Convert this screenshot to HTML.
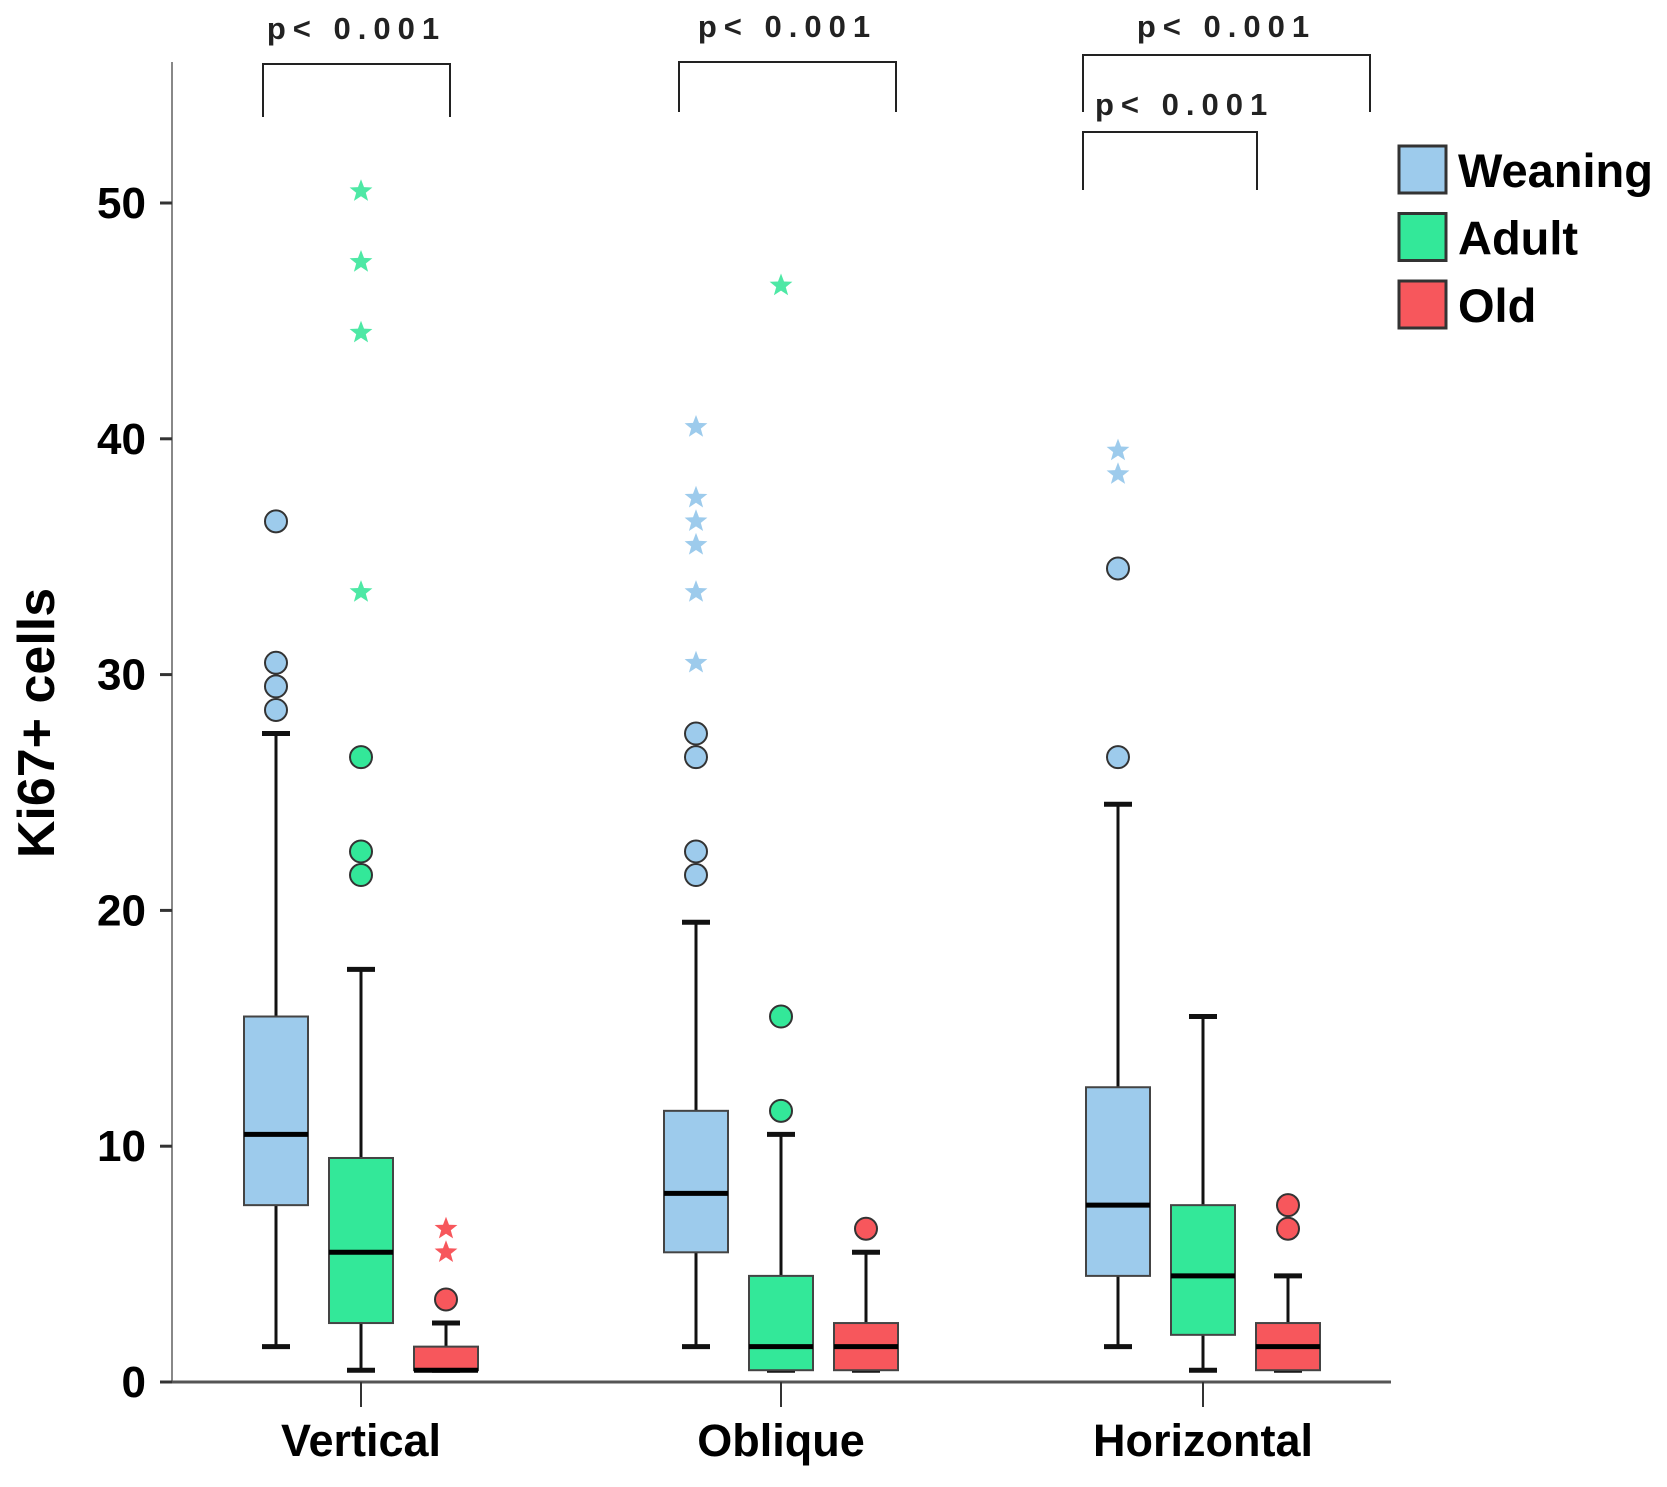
<!DOCTYPE html>
<html><head><meta charset="utf-8"><style>
html,body{margin:0;padding:0;background:#fff;}
svg{display:block;font-family:"Liberation Sans",Arial,sans-serif;}
</style></head><body>
<svg id="chart" width="1667" height="1487" viewBox="0 0 1667 1487"></svg>
<script>
const categories = ["Vertical","Oblique","Horizontal"];
const groups = ["Weaning","Adult","Old"];
const colors = ["#9dcbec","#33e899","#f7575c"];
const starColors = ["#9dcbec","#4ee8a5","#f7575c"];
// [low whisker, Q1, median, Q3, high whisker] per category, per group
const stats = [
  [[1.5,7.5,10.5,15.5,27.5],[0.5,2.5,5.5,9.5,17.5],[0.5,0.5,0.5,1.5,2.5]],
  [[1.5,5.5,8,11.5,19.5],[0.5,0.5,1.5,4.5,10.5],[0.5,0.5,1.5,2.5,5.5]],
  [[1.5,4.5,7.5,12.5,24.5],[0.5,2,4.5,7.5,15.5],[0.5,0.5,1.5,2.5,4.5]]
];
const circleOutliers = [
  [[28.5,29.5,30.5,36.5],[21.5,22.5,26.5],[3.5]],
  [[21.5,22.5,26.5,27.5],[11.5,15.5],[6.5]],
  [[26.5,34.5],[],[6.5,7.5]]
];
const starOutliers = [
  [[],[33.5,44.5,47.5,50.5],[5.5,6.5]],
  [[30.5,33.5,35.5,36.5,37.5,40.5],[46.5],[]],
  [[38.5,39.5],[],[]]
];
const yTicks = [0,10,20,30,40,50];

const svg = document.getElementById('chart');
const NS = 'http://www.w3.org/2000/svg';
const y0 = 1382, pxPerUnit = 23.58;
const yScale = v => y0 - v * pxPerUnit;
const catCenters = [361, 781, 1203];
const xScale = (ci, gi) => catCenters[ci] + (gi - 1) * 85;
const boxW = 64;
function mk(tag, attrs, name, text) {
  const e = document.createElementNS(NS, tag);
  for (const k in attrs) e.setAttribute(k, attrs[k]);
  
  
  if (text !== undefined) e.textContent = text;
  svg.appendChild(e);
  return e;
}
mk('line',{x1:172,y1:62,x2:172,y2:y0,stroke:'#888','stroke-width':2},'y-axis-line');
mk('line',{x1:160,y1:y0,x2:1391,y2:y0,stroke:'#555','stroke-width':3},'x-axis-line');
yTicks.forEach(t => {
  mk('line',{x1:160,y1:yScale(t),x2:172,y2:yScale(t),stroke:'#333','stroke-width':3},'y-tick');
  mk('text',{x:146,y:yScale(t)+15,'text-anchor':'end','font-size':44,'font-weight':'bold'},'y-tick-label',String(t));
});
mk('text',{x:0,y:0,transform:'translate(54,723) rotate(-90)','text-anchor':'middle','font-size':52,'font-weight':'bold'},'y-axis-title','Ki67+ cells');
categories.forEach((c, ci) => {
  mk('line',{x1:catCenters[ci],y1:y0,x2:catCenters[ci],y2:y0+25,stroke:'#333','stroke-width':2},'x-tick');
  mk('text',{x:catCenters[ci],y:1456,'text-anchor':'middle','font-size':45,'font-weight':'bold'},'x-tick-label-'+c.toLowerCase(),c);
});
function star(cx, cy, r, fill, name) {
  let pts = [];
  for (let i = 0; i < 10; i++) {
    const a = -Math.PI/2 + i*Math.PI/5, rr = i%2 ? r*0.42 : r;
    pts.push((cx+rr*Math.cos(a)).toFixed(1)+','+(cy+rr*Math.sin(a)).toFixed(1));
  }
  mk('polygon',{points:pts.join(' '),fill:fill},name);
}
stats.forEach((cat, ci) => cat.forEach((s, gi) => {
  const x = xScale(ci, gi), n = groups[gi].toLowerCase()+'-'+categories[ci].toLowerCase();
  mk('line',{x1:x,y1:yScale(s[0]),x2:x,y2:yScale(s[4]),stroke:'#111','stroke-width':3},'whisker-'+n);
  mk('line',{x1:x-14,y1:yScale(s[0]),x2:x+14,y2:yScale(s[0]),stroke:'#111','stroke-width':5},'whisker-cap-low-'+n);
  mk('line',{x1:x-14,y1:yScale(s[4]),x2:x+14,y2:yScale(s[4]),stroke:'#111','stroke-width':5},'whisker-cap-high-'+n);
  mk('rect',{x:x-boxW/2,y:yScale(s[3]),width:boxW,height:yScale(s[1])-yScale(s[3]),fill:colors[gi],stroke:'#444','stroke-width':2},'box-'+n);
  mk('line',{x1:x-boxW/2,y1:yScale(s[2]),x2:x+boxW/2,y2:yScale(s[2]),stroke:'#000','stroke-width':5},'median-'+n);
  circleOutliers[ci][gi].forEach(v => mk('circle',{cx:x,cy:yScale(v),r:11,fill:colors[gi],stroke:'#333','stroke-width':2},'outlier-'+n));
  starOutliers[ci][gi].forEach(v => star(x, yScale(v), 12, starColors[gi], 'extreme-'+n));
}));
const brackets = [[263,450,64,117,27],[679,896,62,112,25],[1083,1370,55,112,25],[1083,1257,132,190,103]];
brackets.forEach((b, i) => {
  mk('polyline',{points:`${b[0]},${b[3]} ${b[0]},${b[2]} ${b[1]},${b[2]} ${b[1]},${b[3]}`,fill:'none',stroke:'#222','stroke-width':2},'significance-bracket');
  const tx = i === 3 ? b[0]+12 : (b[0]+b[1])/2;
  mk('text',{x:tx,y:b[4]+12,'text-anchor':i===3?'start':'middle','font-size':31,'font-weight':'bold','letter-spacing':7,fill:'#222'},'p-value-label','p< 0.001');
});
groups.forEach((g, gi) => {
  const y = 146 + gi*67.5;
  mk('rect',{x:1399,y:y,width:47,height:47,fill:colors[gi],stroke:'#333','stroke-width':3},'legend-swatch-'+g.toLowerCase());
  mk('text',{x:1458,y:y+41,'font-size':47,'font-weight':'bold'},'legend-label-'+g.toLowerCase(),g);
});
</script>
</body></html>
